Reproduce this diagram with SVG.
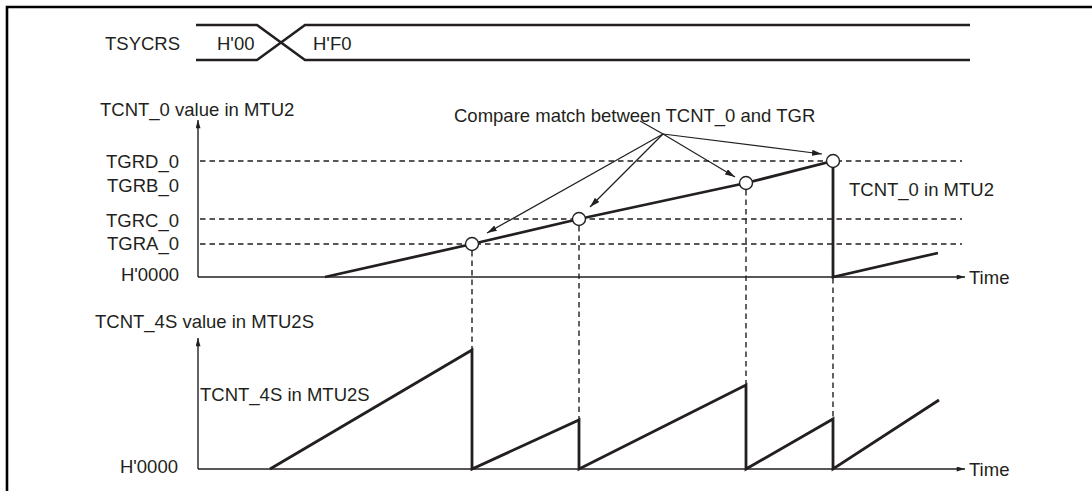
<svg xmlns="http://www.w3.org/2000/svg" width="1092" height="491" viewBox="0 0 1092 491">
<style>
text{font-family:"Liberation Sans",Arial,sans-serif;font-size:18.5px;fill:#231f20}
.r{text-anchor:end}
.ax{stroke:#231f20;stroke-width:1.4;fill:none}
.dash{stroke:#231f20;stroke-width:1.4;stroke-dasharray:5.5 4;fill:none}
.wave{stroke:#231f20;stroke-width:2.8;fill:none;stroke-linejoin:miter}
.bus{stroke:#231f20;stroke-width:2.6;fill:none}
.ptr{stroke:#231f20;stroke-width:1.2;fill:none}
.dot{fill:#fff;stroke:#231f20;stroke-width:1.4}
</style>
<defs>
<marker id="ah" viewBox="0 0 10 6" refX="10" refY="3" markerWidth="10" markerHeight="6" markerUnits="userSpaceOnUse" orient="auto"><path d="M0,0 L10,3 L0,6 Z" fill="#231f20"/></marker>
<marker id="axh" viewBox="0 0 10 6" refX="10" refY="3" markerWidth="10" markerHeight="5" markerUnits="userSpaceOnUse" orient="auto"><path d="M0,0 L10,3 L0,6 Z" fill="#231f20"/></marker>
</defs>
<g id="frame">
<path d="M7,491 V7 H1092" stroke="#000" stroke-width="2.6" fill="none"/>
</g>
<g id="tsycrs">
<text x="105" y="50">TSYCRS</text>
<path class="bus" d="M196,25 H257 L305,60 H970"/>
<path class="bus" d="M196,60 H257 L305,25 H970"/>
<text x="217" y="50">H'00</text>
<text x="313" y="50">H'F0</text>
</g>
<g id="top-chart">
<text x="100" y="116">TCNT_0 value in MTU2</text>
<text class="r" x="179" y="168">TGRD_0</text>
<text class="r" x="179" y="192">TGRB_0</text>
<text class="r" x="179" y="227">TGRC_0</text>
<text class="r" x="179" y="250">TGRA_0</text>
<text class="r" x="179" y="281">H'0000</text>
<path class="ax" d="M198,277 V120" marker-end="url(#axh)"/>
<path class="ax" d="M198,277 H965" marker-end="url(#axh)"/>
<text x="969" y="284">Time</text>
<path class="dash" d="M200,161 H962 M200,219 H962 M200,244 H962"/>
<path class="wave" d="M325,277 L472,244 L579,219 L746,183 L833,161 V277 L938,253"/>
<circle class="dot" cx="472" cy="244" r="6.5"/>
<circle class="dot" cx="579" cy="219" r="6.5"/>
<circle class="dot" cx="746" cy="183" r="6.5"/>
<circle class="dot" cx="833" cy="161" r="6.5"/>
<text x="849" y="196">TCNT_0 in MTU2</text>
</g>
<g id="compare-label">
<text x="454" y="122">Compare match between TCNT_0 and TGR</text>
</g>
<g id="connectors">
<path class="ptr" d="M640,121 L663,134"/>
<path class="ptr" d="M663,134 L487,233" marker-end="url(#ah)"/>
<path class="ptr" d="M663,134 L590,207" marker-end="url(#ah)"/>
<path class="ptr" d="M663,134 L735,177" marker-end="url(#ah)"/>
<path class="ptr" d="M663,134 L822,154" marker-end="url(#ah)"/>
<path class="dash" d="M472,251 V350 M579,226 V420 M746,190 V385 M833,278 V419"/>
</g>
<g id="bottom-chart">
<text x="95" y="328">TCNT_4S value in MTU2S</text>
<text x="200" y="401">TCNT_4S in MTU2S</text>
<text class="r" x="178" y="473">H'0000</text>
<path class="ax" d="M198,469 V338" marker-end="url(#axh)"/>
<path class="ax" d="M198,469 H965" marker-end="url(#axh)"/>
<text x="969" y="476">Time</text>
<path class="wave" d="M270,469 L472,350 V469 L579,420 V469 L746,385 V469 L833,419 V469 L939,400"/>
</g>
</svg>
